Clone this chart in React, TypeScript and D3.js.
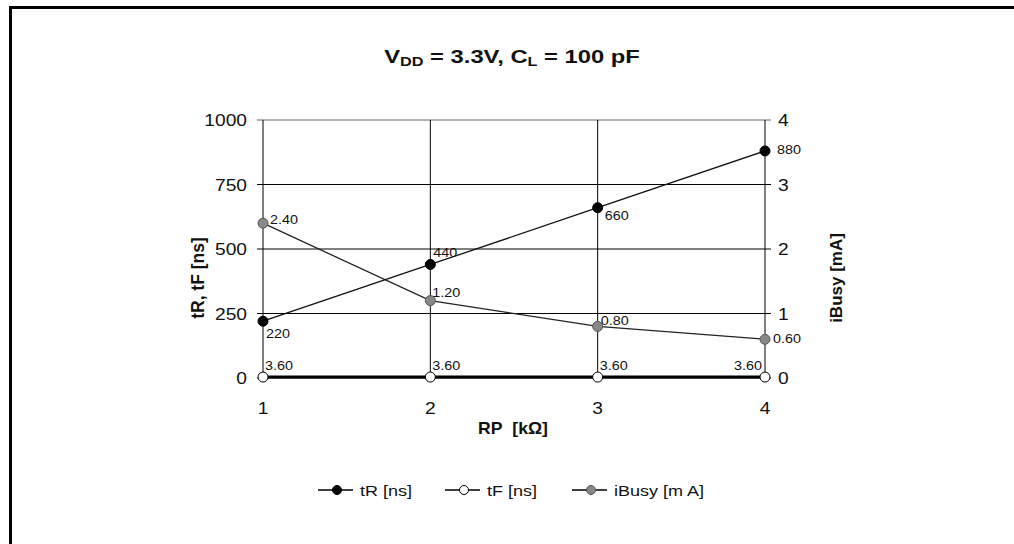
import React from "react";
import * as d3 from "d3";

const rpValues = [1, 2, 3, 4];
const tR = [220, 440, 660, 880];
const tF = [3.6, 3.6, 3.6, 3.6];
const iBusy = [2.4, 1.2, 0.8, 0.6];
const tRLabels = ["220", "440", "660", "880"];
const tFLabels = ["3.60", "3.60", "3.60", "3.60"];
const iBusyLabels = ["2.40", "1.20", "0.80", "0.60"];
const leftTicks = [0, 250, 500, 750, 1000];
const rightTicks = [0, 1, 2, 3, 4];

const W = 1014;
const H = 544;
const FONT = "Liberation Sans, Arial, sans-serif";
const SX = 1.2;

type Anchor = "start" | "middle" | "end";

function T(props: {
  x: number;
  y: number;
  size: number;
  anchor?: Anchor;
  bold?: boolean;
  sx?: number;
  children: React.ReactNode;
  fill?: string;
}) {
  const sx = props.sx ?? SX;
  return (
    <text
      transform={`translate(${props.x},${props.y}) scale(${sx},1)`}
      textAnchor={props.anchor ?? "start"}
      fontSize={props.size}
      fontWeight={props.bold ? "bold" : "normal"}
      fill={props.fill ?? "#111"}
    >
      {props.children}
    </text>
  );
}

export default function App() {
  const x = d3.scaleLinear().domain([1, 4]).range([263, 765]);
  const yL = d3.scaleLinear().domain([0, 1000]).range([378, 120]);
  const yR = d3.scaleLinear().domain([0, 4]).range([378, 120]);

  const lineL = d3.line<number>().x((_, i) => x(rpValues[i])).y((d) => yL(d));
  const lineR = d3.line<number>().x((_, i) => x(rpValues[i])).y((d) => yR(d));

  // label offsets (dx, dy, anchor) per point
  const tROff: [number, number, Anchor][] = [
    [3, 17, "start"],
    [3, -7, "start"],
    [7, 12, "start"],
    [12, 3, "start"],
  ];
  const iOff: [number, number, Anchor][] = [
    [7, 1, "start"],
    [2, -4, "start"],
    [3, -1, "start"],
    [8, 4, "start"],
  ];
  const tFOff: [number, number, Anchor][] = [
    [2, -7, "start"],
    [2, -7, "start"],
    [2, -7, "start"],
    [-3, -7, "end"],
  ];

  return (
    <svg
      width={W}
      height={H}
      style={{ position: "absolute", left: 0, top: 0, background: "#fff" }}
      fontFamily={FONT}
    >
      <rect x={0} y={0} width={W} height={H} fill="#fff" />
      {/* frame */}
      <line x1={10.5} y1={7.5} x2={W} y2={7.5} stroke="#000" strokeWidth={3} />
      <line x1={10.5} y1={6} x2={10.5} y2={H} stroke="#000" strokeWidth={3} />

      {/* title */}
      <text
        transform={`translate(512,63) scale(1.25,1)`}
        textAnchor="middle"
        fontSize={19}
        fontWeight="bold"
        fill="#111"
      >
        V<tspan fontSize={13} dy={3}>DD</tspan>
        <tspan dy={-3}> = 3.3V, C</tspan>
        <tspan fontSize={13} dy={3}>L</tspan>
        <tspan dy={-3}> = 100 pF</tspan>
      </text>

      {/* horizontal gridlines */}
      {leftTicks.map((t) => (
        <line
          key={"h" + t}
          x1={x(1) - 6}
          x2={x(4) + 6}
          y1={yL(t)}
          y2={yL(t)}
          stroke={t === 1000 ? "#666" : "#000"}
          strokeWidth={1}
        />
      ))}
      {/* vertical gridlines */}
      {rpValues.map((v) => (
        <line key={"v" + v} x1={x(v)} x2={x(v)} y1={yL(1000)} y2={yL(0) + 4} stroke="#000" strokeWidth={1} />
      ))}

      {/* left tick labels */}
      {leftTicks.map((t) => (
        <T key={"lt" + t} x={x(1) - 16} y={yL(t) + 6} anchor="end" size={16}>
          {t}
        </T>
      ))}
      {/* right tick labels */}
      {rightTicks.map((t) => (
        <T key={"rt" + t} x={x(4) + 13} y={yR(t) + 6} size={16}>
          {t}
        </T>
      ))}
      {/* x tick labels */}
      {rpValues.map((v) => (
        <T key={"xt" + v} x={x(v)} y={414} anchor="middle" size={16}>
          {v}
        </T>
      ))}

      {/* axis titles */}
      <T x={513} y={434} anchor="middle" size={16} bold sx={1.1}>
        RP{"\u00a0\u00a0"}[kΩ]
      </T>
      <text
        transform={`translate(204,278) rotate(-90)`}
        textAnchor="middle"
        fontSize={17.5}
        fontWeight="bold"
        fill="#111"
      >
        tR, tF [ns]
      </text>
      <text
        transform={`translate(842,278) rotate(-90)`}
        textAnchor="middle"
        fontSize={17}
        fontWeight="bold"
        fill="#111"
      >
        iBusy [mA]
      </text>

      {/* series lines */}
      <path d={lineR(iBusy) || ""} fill="none" stroke="#222" strokeWidth={1.3} />
      <path d={lineL(tR) || ""} fill="none" stroke="#111" strokeWidth={1.3} />
      <path d={lineL(tF) || ""} fill="none" stroke="#000" strokeWidth={3} />

      {/* markers */}
      {iBusy.map((d, i) => (
        <circle key={"im" + i} cx={x(rpValues[i])} cy={yR(d)} r={5} fill="#888" stroke="#555" strokeWidth={1} />
      ))}
      {tR.map((d, i) => (
        <circle key={"rm" + i} cx={x(rpValues[i])} cy={yL(d)} r={5} fill="#000" stroke="#000" />
      ))}
      {tF.map((d, i) => (
        <circle key={"fm" + i} cx={x(rpValues[i])} cy={yL(d)} r={5} fill="#fff" stroke="#000" strokeWidth={1} />
      ))}

      {/* data labels */}
      {tR.map((d, i) => (
        <T key={"rl" + i} x={x(rpValues[i]) + tROff[i][0]} y={yL(d) + tROff[i][1]} anchor={tROff[i][2]} size={12.5} sx={1.15}>
          {tRLabels[i]}
        </T>
      ))}
      {iBusy.map((d, i) => (
        <T key={"il" + i} x={x(rpValues[i]) + iOff[i][0]} y={yR(d) + iOff[i][1]} anchor={iOff[i][2]} size={12.5} sx={1.15}>
          {iBusyLabels[i]}
        </T>
      ))}
      {tF.map((d, i) => (
        <T key={"fl" + i} x={x(rpValues[i]) + tFOff[i][0]} y={yL(d) + tFOff[i][1]} anchor={tFOff[i][2]} size={12.5} sx={1.15}>
          {tFLabels[i]}
        </T>
      ))}

      {/* legend */}
      {[
        { label: "tR [ns]", fill: "#000", stroke: "#000", cx: 337 },
        { label: "tF [ns]", fill: "#fff", stroke: "#000", cx: 464 },
        { label: "iBusy [m A]", fill: "#888", stroke: "#555", cx: 591 },
      ].map((l) => (
        <g key={l.label}>
          <line x1={l.cx - 19} x2={l.cx + 16} y1={490} y2={490} stroke="#000" strokeWidth={1.3} />
          <circle cx={l.cx} cy={490} r={4.5} fill={l.fill} stroke={l.stroke} />
          <T x={l.cx + 23} y={495.5} size={15}>
            {l.label}
          </T>
        </g>
      ))}
    </svg>
  );
}
